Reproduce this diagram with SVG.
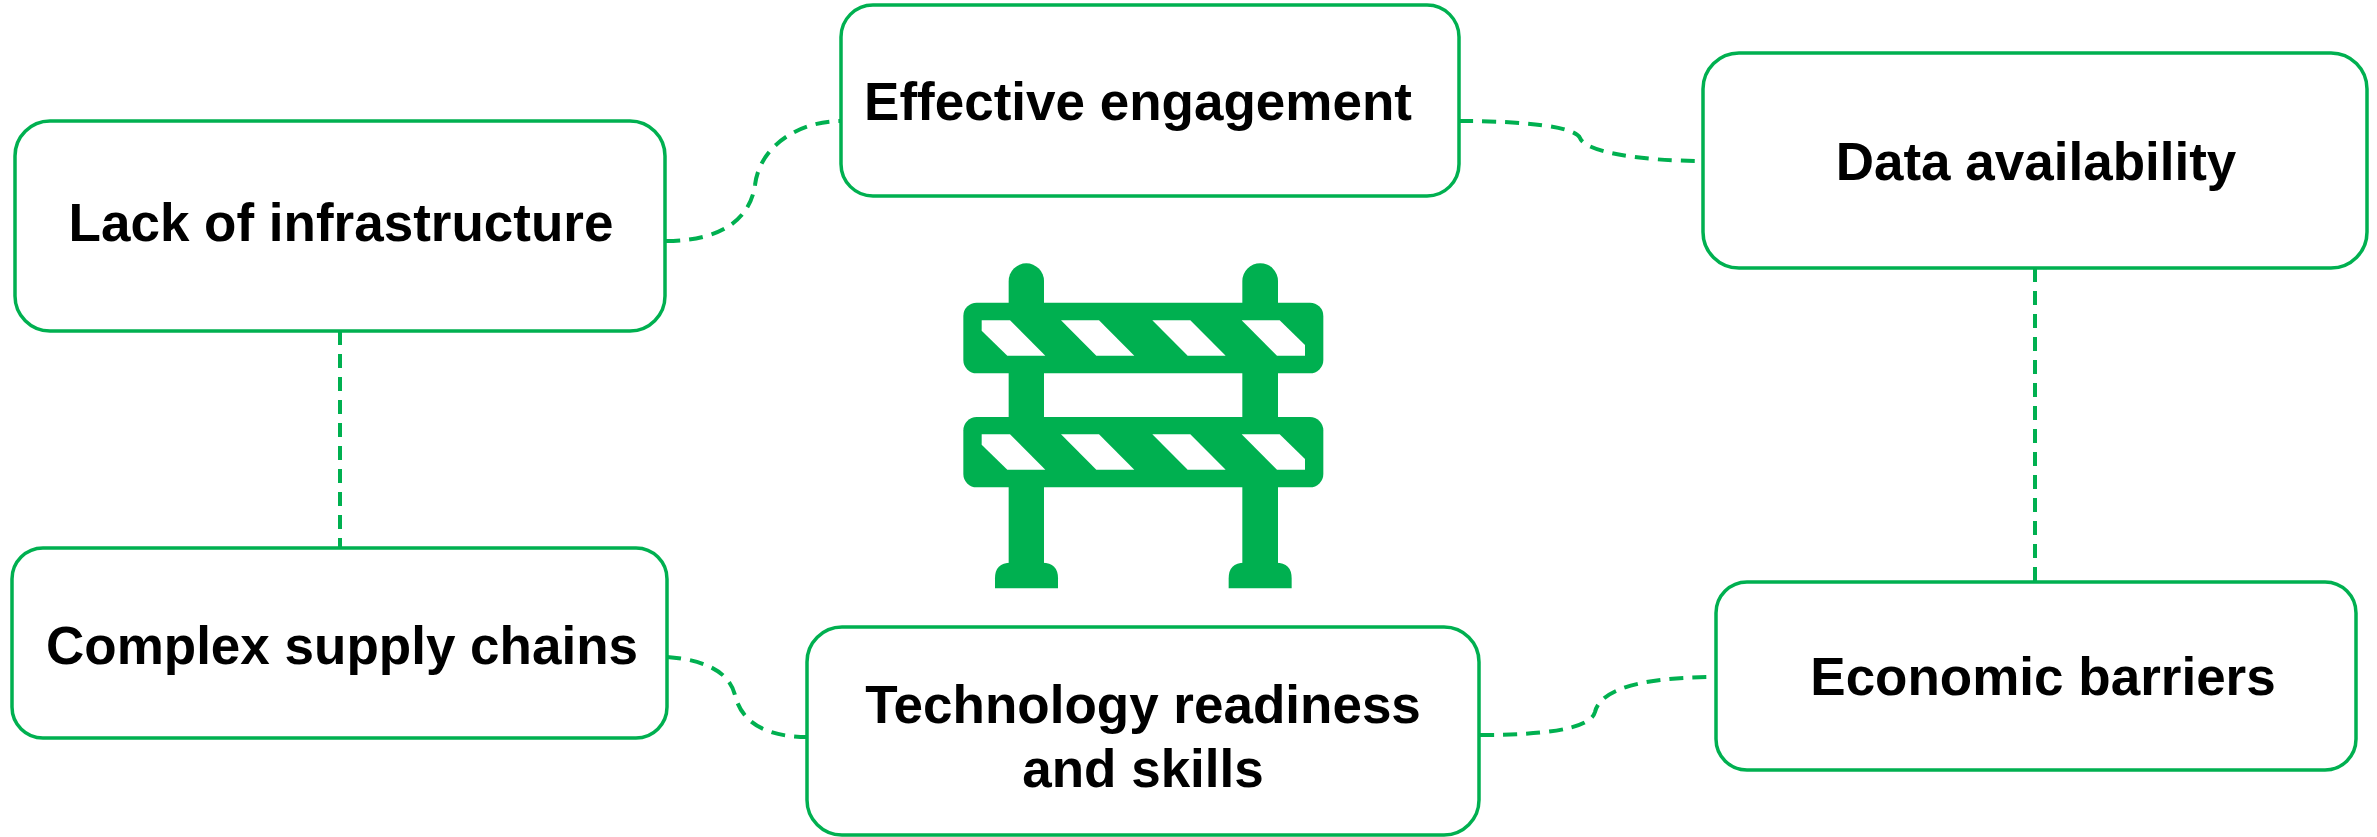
<svg xmlns="http://www.w3.org/2000/svg" width="2377" height="837" viewBox="0 0 2377 837">
<style>
.box{fill:#ffffff;stroke:#00B050;stroke-width:3.5}
.lbl{font-family:"Liberation Sans",Arial,sans-serif;font-weight:bold;font-size:53px;fill:#000000;text-anchor:middle}
.conn{fill:none;stroke:#00B050;stroke-width:4;stroke-dasharray:14 9}
.icon{fill:#00B050}
.stripe{fill:#ffffff}
</style>
<rect width="2377" height="837" fill="#ffffff"/>
<g id="connectors">
<path class="conn" d="M666,241 C720,241 750,220 755,185 C760,145 800,121 841,121"/>
<path class="conn" d="M1459,121 C1520,121 1575,126 1580,138 C1585,152 1640,161 1703,161"/>
<path class="conn" d="M340,331 V548"/>
<path class="conn" d="M2035,268 V582"/>
<path class="conn" d="M667,657 C710,660 730,675 735,695 C742,725 770,737 807,737"/>
<path class="conn" d="M1480,735 C1540,735 1590,730 1595,712 C1600,690 1640,677 1716,677"/>
</g>
<g id="barrier-icon" transform="translate(900,240) scale(0.33333)">
<path class="icon" d="M326,123 A53,53 0 0 1 432,123 V990 H326 Z"/>
<path class="icon" d="M1027,123 A53.5,53.5 0 0 1 1134,123 V990 H1027 Z"/>
<path class="icon" d="M285,1045 V1015 Q285,968 332,968 H427 Q474,968 474,1015 V1045 Z"/>
<path class="icon" d="M986,1045 V1015 Q986,968 1033,968 H1128 Q1175,968 1175,1015 V1045 Z"/>
<rect class="icon" x="190" y="188" width="1080" height="212" rx="40"/>
<rect class="icon" x="190" y="531" width="1080" height="211" rx="40"/>
<polygon class="stripe" points="245,241 330,241 436,347 322,347 245,272"/>
<polygon class="stripe" points="483,241 597,241 703,347 589,347"/>
<polygon class="stripe" points="757,241 871,241 977,347 863,347"/>
<polygon class="stripe" points="1025,241 1139,241 1215,315 1215,347 1131,347"/>
<polygon class="stripe" points="245,583 330,583 436,689 322,689 245,614"/>
<polygon class="stripe" points="483,583 597,583 703,689 589,689"/>
<polygon class="stripe" points="757,583 871,583 977,689 863,689"/>
<polygon class="stripe" points="1025,583 1139,583 1215,657 1215,689 1131,689"/>
</g>
<g id="node-lack-of-infrastructure">
<rect class="box" x="15" y="121" width="650" height="210" rx="35"/>
<text class="lbl" x="341" y="241">Lack of infrastructure</text>
</g>
<g id="node-effective-engagement">
<rect class="box" x="841" y="5" width="618" height="191" rx="32"/>
<text class="lbl" x="1138" y="120">Effective engagement</text>
</g>
<g id="node-data-availability">
<rect class="box" x="1703" y="53" width="664" height="215" rx="36"/>
<text class="lbl" x="2036" y="180">Data availability</text>
</g>
<g id="node-complex-supply-chains">
<rect class="box" x="12" y="548" width="655" height="190" rx="31"/>
<text class="lbl" x="342" y="664">Complex supply chains</text>
</g>
<g id="node-technology-readiness">
<rect class="box" x="807" y="627" width="672" height="208" rx="35"/>
<text class="lbl" x="1143" y="723">Technology readiness</text>
<text class="lbl" x="1143" y="787">and skills</text>
</g>
<g id="node-economic-barriers">
<rect class="box" x="1716" y="582" width="640" height="188" rx="31"/>
<text class="lbl" x="2043" y="695">Economic barriers</text>
</g>
</svg>
